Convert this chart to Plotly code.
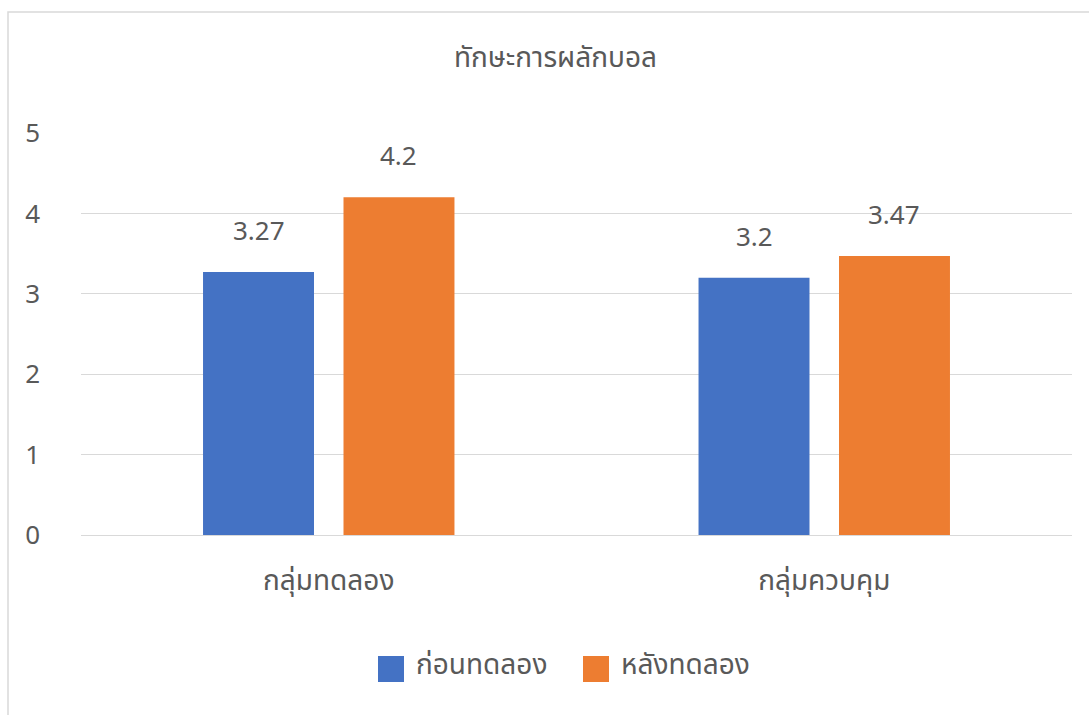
import plotly.graph_objects as go

categories = ["กลุ่มทดลอง", "กลุ่มควบคุม"]
series_names = ["ก่อนทดลอง", "หลังทดลอง"]
before_vals = [3.27, 3.2]
after_vals = [4.2, 3.47]
colors = ["#4472C4", "#ED7D31"]
title_text = "ทักษะการผลักบอล"

W, H = 1089, 715
ml, mr, mt, mb = 81, 17, 133, 180
pw, ph = W - ml - mr, H - mt - mb

FONT = "Noto Sans Thai, Leelawadee UI, Tahoma, DejaVu Sans, sans-serif"
TXT = "#595959"
THAI_SIZE = 28
NUM_SIZE = 26


def px_x(px):
    return (px - ml) / pw


def px_y(py):
    return (H - mb - py) / ph


xs = list(range(len(categories)))
fig = go.Figure()
for name, vals, c in zip(series_names, [before_vals, after_vals], colors):
    fig.add_trace(go.Bar(x=xs, y=vals, name=name, showlegend=False,
                         marker=dict(color=c, line=dict(width=0))))

bargap = 0.433
bargroupgap = 0.21
slot = (1 - bargap) / 2
offsets = [-slot / 2, slot / 2]
annotations = []
for off, vals in zip(offsets, [before_vals, after_vals]):
    for i, v in enumerate(vals):
        annotations.append(dict(x=i + off, y=v, xref="x", yref="y", text=str(v),
                                showarrow=False, yshift=40,
                                font=dict(size=NUM_SIZE, color=TXT, family=FONT)))
annotations.append(dict(x=px_x(555), y=px_y(58), xref="paper", yref="paper",
                        text=title_text, showarrow=False, yanchor="middle",
                        font=dict(size=THAI_SIZE, color=TXT, family=FONT)))

# legend (drawn manually so the swatches match the reference size)
shapes = [dict(type="rect", xref="paper", yref="paper",
               x0=px_x(8), x1=px_x(1095), y0=px_y(725), y1=px_y(12),
               line=dict(color="#D9D9D9", width=1.5), fillcolor="rgba(0,0,0,0)", layer="below")]
legend_sw = [378, 583]
for sx, name, c in zip(legend_sw, series_names, colors):
    shapes.append(dict(type="rect", xref="paper", yref="paper",
                       x0=px_x(sx), x1=px_x(sx + 26), y0=px_y(682), y1=px_y(656),
                       line=dict(width=0), fillcolor=c))
    annotations.append(dict(x=px_x(sx + 36), y=px_y(665), xref="paper", yref="paper",
                            text=name, showarrow=False, xanchor="left", yanchor="middle",
                            font=dict(size=THAI_SIZE, color=TXT, family=FONT)))

fig.update_layout(
    width=W, height=H,
    margin=dict(l=ml, r=mr, t=mt, b=mb),
    paper_bgcolor="white", plot_bgcolor="white",
    barmode="group", bargap=bargap, bargroupgap=bargroupgap,
    font=dict(family=FONT, color=TXT),
    annotations=annotations,
    shapes=shapes,
    showlegend=False,
    xaxis=dict(tickmode="array", tickvals=xs, ticktext=categories, range=[-0.5, 1.5],
               showgrid=False, zeroline=False, showline=False, ticks="",
               tickfont=dict(size=THAI_SIZE, color=TXT, family=FONT), ticklabelstandoff=26),
    yaxis=dict(range=[0, 5], dtick=1, showgrid=True, gridcolor="#D9D9D9", gridwidth=1,
               zeroline=True, zerolinecolor="#D9D9D9", zerolinewidth=1,
               showline=False, ticks="", tickfont=dict(size=NUM_SIZE, color=TXT, family=FONT),
               ticklabelstandoff=40),
)

fig.write_html("out.html")
